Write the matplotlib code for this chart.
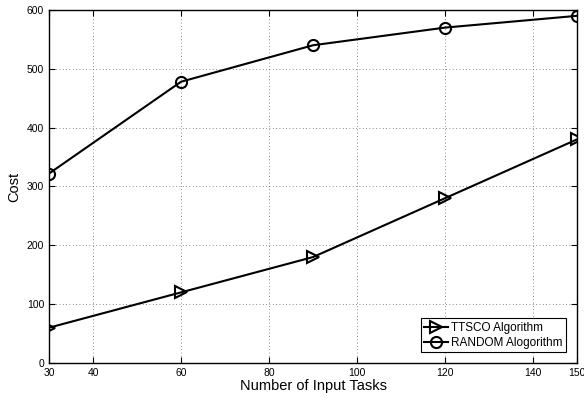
import matplotlib
matplotlib.use('Agg')
import matplotlib.pyplot as plt

tasks = [30, 60, 90, 120, 150]
ttsco = [60, 120, 180, 280, 380]
random_alg = [322, 478, 540, 570, 590]
xticks = [30, 40, 60, 80, 100, 120, 140, 150]
yticks = [0, 100, 200, 300, 400, 500, 600]

plt.rcParams['font.family'] = ['Liberation Sans', 'DejaVu Sans']

fig = plt.figure(figsize=(5.84, 3.98), dpi=100)
ax = fig.add_axes([0.084, 0.088, 0.904, 0.887])

ax.plot(tasks, ttsco, '-', marker='>', color='k', lw=1.5, markersize=8,
        markerfacecolor='none', markeredgewidth=1.5, label='TTSCO Algorithm')
ax.plot(tasks, random_alg, '-', marker='o', color='k', lw=1.5, markersize=8,
        markerfacecolor='none', markeredgewidth=1.5, label='RANDOM Alogorithm')

ax.set_xlim(30, 150)
ax.set_ylim(0, 600)
ax.set_xticks(xticks)
ax.set_yticks(yticks)
ax.tick_params(direction='in', labelsize=7.5, length=4, top=True, right=True)
ax.grid(True, linestyle=(0, (1, 3)), color='k', linewidth=0.6, alpha=0.6)
for s in ax.spines.values():
    s.set_linewidth(1.0)

ax.set_xlabel('Number of Input Tasks', fontsize=10.5, labelpad=1)
ax.set_ylabel('Cost', fontsize=10.5, labelpad=4)

leg = ax.legend(loc='lower right', fontsize=8.5, fancybox=False, edgecolor='k',
                framealpha=1, handlelength=2.0, borderaxespad=0.9,
                handletextpad=0.3, borderpad=0.3, labelspacing=0.25)
leg.get_frame().set_linewidth(0.8)

fig.savefig('out.png', dpi=100)
